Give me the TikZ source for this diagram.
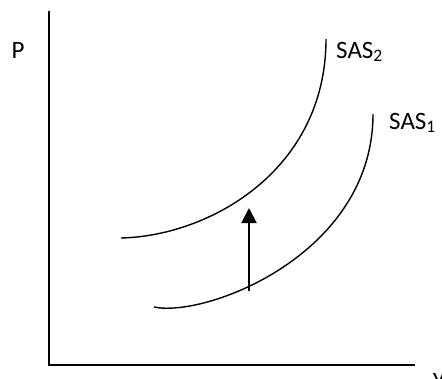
\documentclass[tikz,border=0pt]{standalone}
\usepackage{fontspec}
\setmainfont{Carlito}
\usetikzlibrary{arrows.meta}
\tikzset{
  axis/.style={line width=2pt},
  curve/.style={line width=1.4pt},
  lbl/.style={font=\fontsize{25}{30}\selectfont, inner sep=0pt},
  shift arrow/.style={line width=2pt, -{Triangle[width=15pt,length=15pt]}}
}
\begin{document}
\begin{tikzpicture}[x=1pt,y=-1pt]
\useasboundingbox (0,0) rectangle (442,378);
\coordinate (top) at (49,11);
\coordinate (origin) at (49,365);
\coordinate (right) at (415,365);
\draw[axis] (top) -- (origin) -- (right);
\node[lbl] (P) at (18,50) {P};
\node[lbl] (Y) at (439,381) {Y};
\coordinate (s2a) at (121,238);
\coordinate (s2b) at (326,39);
\draw[curve] (s2a) .. controls (210,236) and (326,170) .. (s2b);
\coordinate (s1a) at (154,307);
\coordinate (s1b) at (373,114);
\draw[curve] (s1a) .. controls (205,318) and (373,255) .. (s1b);
\node[lbl, anchor=west] (sas2) at (336,52) {SAS\textsubscript{2}};
\node[lbl, anchor=west] (sas1) at (389,123) {SAS\textsubscript{1}};
\coordinate (arrA) at (249,291);
\coordinate (arrB) at (249,208);
\draw[shift arrow] (arrA) -- (arrB);
\end{tikzpicture}
\end{document}
